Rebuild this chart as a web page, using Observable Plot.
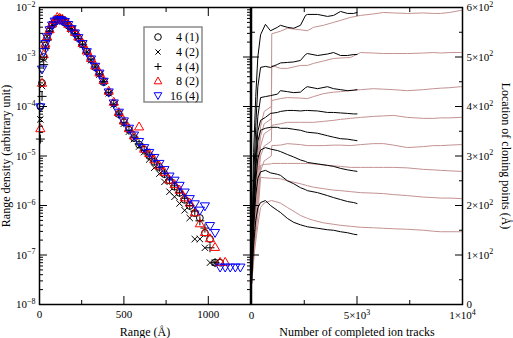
<!DOCTYPE html>
<html>
<head>
<meta charset="utf-8">
<script src="https://cdn.jsdelivr.net/npm/d3@7"></script>
<script src="https://cdn.jsdelivr.net/npm/@observablehq/plot@0.6"></script>
<style>
  html, body { margin: 0; padding: 0; background: white; }
  #wrap { position: relative; width: 513px; height: 338px; overflow: hidden; font-family: "Liberation Serif", "Times New Roman", serif; }
  #wrap > svg, #wrap > figure { position: absolute; top: 0; margin: 0; }
  #wrap svg text { font-family: "Liberation Serif", "Times New Roman", serif; }
</style>
</head>
<body>
<div id="wrap"></div>
<script>
// ---------- LEFT PANEL DATA: range density ----------
const rangeBins = [5,15,25,35,45,60,75,90,105,120,135,150,170,190,210,230,255,280,305,330,355,380,410,440,470,500,530,560,590,620,650,680,710,740,770,800,830,860,890,920,950,980,1010,1040,1070,1100,1130,1160,1190];
const dens4_1 = [1.0e-4,3.0e-4,1.0e-3,1.7e-3,2.4e-3,3.4e-3,4.4e-3,5.1e-3,5.8e-3,5.9e-3,5.6e-3,5.0e-3,4.3e-3,3.7e-3,3.0e-3,2.4e-3,1.8e-3,1.3e-3,9.0e-4,6.2e-4,4.6e-4,3.1e-4,1.9e-4,1.15e-4,7.0e-5,4.8e-5,3.4e-5,2.3e-5,1.7e-5,1.35e-5,1.0e-5,7.6e-6,6.0e-6,4.3e-6,3.2e-6,2.4e-6,1.8e-6,1.3e-6,9.8e-7,7.0e-7,5.6e-7,2.8e-7,2.1e-7,7e-8,7e-8,null,null,null,null];
const dens4_2 = [5.5e-5,2.6e-4,9.0e-4,1.6e-3,2.6e-3,3.6e-3,4.6e-3,5.3e-3,5.9e-3,6.1e-3,5.7e-3,5.2e-3,4.5e-3,3.6e-3,3.1e-3,2.5e-3,1.75e-3,1.25e-3,8.6e-4,6.4e-4,4.4e-4,3.2e-4,1.85e-4,1.1e-4,7.2e-5,4.5e-5,3.1e-5,2.2e-5,1.55e-5,1.2e-5,8.5e-6,5.8e-6,4.4e-6,3.0e-6,1.9e-6,1.5e-6,1.1e-6,8.0e-7,5.6e-7,2.1e-7,2.1e-7,1.4e-7,7e-8,7e-8,null,null,null,null,null];
const dens4_4 = [2.2e-5,1.6e-4,7.0e-4,1.5e-3,2.2e-3,3.3e-3,4.3e-3,5.0e-3,5.6e-3,5.8e-3,5.8e-3,5.1e-3,4.4e-3,3.6e-3,3.0e-3,2.4e-3,1.8e-3,1.25e-3,9.0e-4,6.3e-4,4.5e-4,3.2e-4,1.9e-4,1.1e-4,7.0e-5,4.7e-5,3.3e-5,2.4e-5,1.75e-5,1.3e-5,1.05e-5,7.9e-6,5.9e-6,4.4e-6,3.3e-6,2.5e-6,1.85e-6,1.4e-6,1.0e-6,7.7e-7,4.9e-7,3.5e-7,1.4e-7,7e-8,null,null,null,null,null];
const dens8_2 = [3.5e-5,2.9e-4,1.1e-3,1.8e-3,2.5e-3,3.5e-3,4.6e-3,5.4e-3,6.2e-3,6.0e-3,5.7e-3,5.2e-3,4.5e-3,3.7e-3,3.1e-3,2.5e-3,1.85e-3,1.3e-3,9.2e-4,6.5e-4,4.7e-4,3.3e-4,2.0e-4,1.2e-4,7.4e-5,5.0e-5,3.5e-5,2.5e-5,3.8e-5,1.35e-5,1.1e-5,8.2e-6,6.2e-6,4.6e-6,3.2e-6,2.6e-6,2.0e-6,1.4e-6,1.1e-6,7.0e-7,4.2e-7,2.8e-7,2.1e-7,1.4e-7,7e-8,7e-8,null,null,null];
const dens16_4 = [1.0e-4,5.8e-4,1.3e-3,1.9e-3,2.6e-3,3.6e-3,4.5e-3,5.4e-3,5.7e-3,5.8e-3,5.5e-3,5.3e-3,4.6e-3,3.8e-3,3.1e-3,2.5e-3,1.9e-3,1.3e-3,9.3e-4,6.6e-4,4.8e-4,3.3e-4,2.0e-4,1.2e-4,7.8e-5,5.2e-5,3.7e-5,2.7e-5,2.0e-5,1.5e-5,1.2e-5,9.5e-6,7.2e-6,5.4e-6,4.0e-6,3.3e-6,2.6e-6,1.9e-6,1.4e-6,1.1e-6,8.2e-7,1.0e-6,4.0e-7,2.9e-7,5.8e-8,5.8e-8,5.8e-8,5.8e-8,5.8e-8];

const legendNames = ["4 (1)", "4 (2)", "4 (4)", "8 (2)", "16 (4)"];

const leftXTicks = [0, 500, 1000];
const leftXMinor = [250, 750, 1250];
const leftYTicks = [1e-8, 1e-7, 1e-6, 1e-5, 1e-4, 1e-3, 1e-2];
const leftYLabels = ["10^−8", "10^−7", "10^−6", "10^−5", "10^−4", "10^−3", "10^−2"];
const leftXTitle = ["Range (Å)"];
const leftYTitle = ["Range density (arbitrary unit)"];

// ---------- RIGHT PANEL DATA: cloning point locations ----------
const blackX = [0,100,200,300,430,660,900,1230,1370,1700,2000,2320,2560,2650,3130,3600,3890,4220,4550,4840,5000];
const black1 = [90,307,420,500,545,566,553,560,564,560,558,564,584,586,586,582,584,592,588,588,590];
const black2 = [80,250,360,440,479,481,479,485,488,489,490,493,505,507,503,506,509,503,503,505,505];
const black3 = [70,220,310,380,418,420,422,425,432,430,428,429,438,440,436,440,436,434,432,433,434];
const black4 = [70,200,290,350,372,378,386,388,390,392,392,391,392,392,391,388,388,387,386,385,385];
const black5 = [60,180,270,330,352,356,358,358,356,356,354,352,349,348,346,341,338,335,334,332,331];
const black6 = [60,170,250,295,312,317,314,311,309,303,298,292,289,287,284,281,279,275,272,270,269];
const black7 = [50,150,220,255,268,271,266,263,261,250,244,236,232,230,226,220,216,212,208,206,204];
const black8 = [40,120,170,195,206,210,200,190,186,174,166,161,158,157,154,151,150,147,145,142,141];

const pinkX = [0,150,300,430,600,940,960,1370,1700,2320,2650,2940,3410,3890,4220,4690,5170,5780,6260,6730,7390,8150,8630,8960,9400,9900,10000];
const pink1 = [40,200,300,360,390,400,547,552,558,555,553,560,564,570,574,580,584,587,590,589,588,589,588,588,590,594,594];
const pink2 = [40,180,280,340,365,375,483,477,477,483,483,487,492,497,498,499,509,508,507,507,507,508,509,508,509,509,510];
const pink3 = [40,160,260,320,345,355,412,416,418,417,416,420,426,429,430,432,434,436,435,434,432,434,436,437,438,440,440];
const pink4 = [40,150,240,300,320,330,362,365,368,368,368,368,370,372,374,376,378,380,381,382,378,376,376,377,377,378,378];
const pink5 = [40,140,220,270,290,300,321,322,325,323,321,321,321,322,322,321,323,325,325,322,317,319,321,321,322,323,323];
const pink6 = [40,130,200,281,283,284,285,285,285,285,285,284,282,280,279,277,277,277,277,277,276,273,272,271,270,269,269];
const pink7 = [40,120,180,257,256,255,255,254,250,244,240,237,234,231,230,228,226,225,224,222,220,217,216,215,215,214,214];
const pink8 = [40,110,160,196,205,210,210,205,196,180,174,170,165,162,160,158,156,155,154,153,152,150,148,147,147,147,147];

const rightXTicks = [0, 5000, 10000];
const rightXLabels = ["0", "5×10^3", "1×10^4"];
const rightXMinor = [2500, 7500];
const rightYTicks = [0, 100, 200, 300, 400, 500, 600];
const rightYLabels = ["0", "1×10^2", "2×10^2", "3×10^2", "4×10^2", "5×10^2", "6×10^2"];
const rightYMinor = [50, 150, 250, 350, 450, 550];
const rightXTitle = ["Number of completed ion tracks"];
const rightYTitle = ["Location of cloning points (Å)"];

// ---------- helpers ----------
const ns = "http://www.w3.org/2000/svg";
const FONT = "'Liberation Serif', 'Times New Roman', serif";
function supify(svg) {
  svg.querySelectorAll("text").forEach(t => {
    const s = t.textContent;
    if (s.includes("^")) {
      const [base, exp] = s.split("^");
      t.textContent = "";
      const a = document.createElementNS(ns, "tspan"); a.textContent = base;
      const b = document.createElementNS(ns, "tspan"); b.textContent = exp;
      b.setAttribute("dy", "-0.55em"); b.setAttribute("font-size", "8px");
      t.append(a, b);
    }
  });
}
const pts = (xs, ys) => xs.map((x, i) => ({x, y: ys[i]})).filter(d => d.y != null);
const font = {fontFamily: FONT, fontSize: "11px", background: "transparent", color: "black", overflow: "visible"};
const TITLE = 12;

// minor log ticks
const leftYMinor = [];
for (let e = -8; e < -2; e++) for (let m = 2; m <= 9; m++) leftYMinor.push(m * Math.pow(10, e));

const dotOpts = {x: "x", y: "y", r: 3.4, strokeWidth: 1, fill: "none"};

const left = Plot.plot({
  width: 252, height: 338,
  marginLeft: 39, marginRight: 2, marginTop: 7, marginBottom: 34,
  style: font,
  x: {domain: [0, 1250]},
  y: {type: "log", domain: [1e-8, 1e-2]},
  marks: [
    Plot.dot(pts(rangeBins, dens4_1), {...dotOpts, symbol: "circle", stroke: "black"}),
    Plot.dot(pts(rangeBins, dens4_2), {...dotOpts, symbol: "times", stroke: "black", r: 3}),
    Plot.dot(pts(rangeBins, dens4_4), {...dotOpts, symbol: "plus", stroke: "black", r: 3}),
    Plot.dot(pts(rangeBins, dens8_2), {...dotOpts, symbol: "triangle", stroke: "#ff0000"}),
    Plot.dot(pts(rangeBins, dens16_4), {...dotOpts, symbol: "triangle", rotate: 180, stroke: "#0000ff"}),
    Plot.frame({stroke: "black", strokeWidth: 1.5}),
    Plot.axisY(leftYTicks, {anchor: "left", tickSize: 0, tickPadding: 4, tickFormat: d => leftYLabels[leftYTicks.indexOf(d)], label: null}),
    Plot.axisY(leftYTicks, {anchor: "left", tickSize: -8, text: null, label: null}),
    Plot.axisY(leftYMinor, {anchor: "left", tickSize: -4, text: null, label: null}),
    Plot.axisY(leftYTicks, {anchor: "right", tickSize: -8, text: null, label: null}),
    Plot.axisY(leftYMinor, {anchor: "right", tickSize: -4, text: null, label: null}),
    Plot.axisX(leftXTicks, {anchor: "bottom", tickSize: 0, tickPadding: 6, tickFormat: d => String(d), label: null}),
    Plot.axisX(leftXTicks, {anchor: "bottom", tickSize: -8, text: null, label: null}),
    Plot.axisX(leftXMinor, {anchor: "bottom", tickSize: -4, text: null, label: null}),
    Plot.axisX(leftXTicks, {anchor: "top", tickSize: -8, text: null, label: null}),
    Plot.axisX(leftXMinor, {anchor: "top", tickSize: -4, text: null, label: null}),
    Plot.text(leftXTitle, {text: d => d, frameAnchor: "bottom", textAnchor: "middle", lineAnchor: "bottom", dy: 31, fontSize: TITLE}),
    Plot.text(leftYTitle, {text: d => d, frameAnchor: "left", textAnchor: "middle", lineAnchor: "middle", rotate: -90, dx: -33, fontSize: TITLE})
  ]
});

const pinkCol = "#c49292";
const lineOpts = {x: "x", y: "y", strokeWidth: 1};
const right = Plot.plot({
  width: 265, height: 338,
  marginLeft: 3, marginRight: 51, marginTop: 7, marginBottom: 34,
  style: font,
  x: {domain: [0, 10000]},
  y: {domain: [0, 600]},
  marks: [
    ...[pink1, pink2, pink3, pink4, pink5, pink6, pink7, pink8].map(p =>
      Plot.line(pts(pinkX, p), {...lineOpts, stroke: pinkCol})),
    ...[black1, black2, black3, black4, black5, black6, black7, black8].map(b =>
      Plot.line(pts(blackX, b), {...lineOpts, stroke: "black"})),
    Plot.frame({stroke: "black", strokeWidth: 1.5}),
    Plot.axisY(rightYTicks, {anchor: "right", tickSize: 0, tickPadding: 4, tickFormat: d => rightYLabels[rightYTicks.indexOf(d)], label: null}),
    Plot.axisY(rightYTicks, {anchor: "right", tickSize: -8, text: null, label: null}),
    Plot.axisY(rightYMinor, {anchor: "right", tickSize: -4, text: null, label: null}),
    Plot.axisY(rightYTicks, {anchor: "left", tickSize: -8, text: null, label: null}),
    Plot.axisY(rightYMinor, {anchor: "left", tickSize: -4, text: null, label: null}),
    Plot.axisX(rightXTicks, {anchor: "bottom", tickSize: 0, tickPadding: 7, tickFormat: d => rightXLabels[rightXTicks.indexOf(d)], label: null}),
    Plot.axisX(rightXTicks, {anchor: "bottom", tickSize: -8, text: null, label: null}),
    Plot.axisX(rightXMinor, {anchor: "bottom", tickSize: -4, text: null, label: null}),
    Plot.axisX(rightXTicks, {anchor: "top", tickSize: -8, text: null, label: null}),
    Plot.axisX(rightXMinor, {anchor: "top", tickSize: -4, text: null, label: null}),
    Plot.text(rightXTitle, {text: d => d, frameAnchor: "bottom", textAnchor: "middle", lineAnchor: "bottom", dy: 31, fontSize: TITLE}),
    Plot.text(rightYTitle, {text: d => d, frameAnchor: "right", textAnchor: "middle", lineAnchor: "middle", rotate: 90, dx: 43, fontSize: TITLE})
  ]
});

supify(left); supify(right);
const wrap = document.getElementById("wrap");
left.style.left = "0px";
right.style.left = "248px";
wrap.append(right, left);

// ---------- legend ----------
const lg = document.createElementNS(ns, "svg");
lg.setAttribute("width", 62); lg.setAttribute("height", 78);
lg.style.position = "absolute"; lg.style.left = "143px"; lg.style.top = "26px";
const rowY = [11, 26, 40.5, 55, 69.5];
let html = `<rect x="1" y="1" width="58" height="75" fill="white" stroke="#8a8a8a" stroke-width="1.5"/>`;
const sx = 15;
html += `<circle cx="${sx}" cy="${rowY[0]}" r="3.3" fill="none" stroke="black"/>`;
html += `<path d="M${sx-2.6},${rowY[1]-2.6}L${sx+2.6},${rowY[1]+2.6}M${sx-2.6},${rowY[1]+2.6}L${sx+2.6},${rowY[1]-2.6}" stroke="black"/>`;
html += `<path d="M${sx-3.5},${rowY[2]}L${sx+3.5},${rowY[2]}M${sx},${rowY[2]-3.5}L${sx},${rowY[2]+3.5}" stroke="black"/>`;
html += `<path d="M${sx},${rowY[3]-4}L${sx+3.8},${rowY[3]+2.8}L${sx-3.8},${rowY[3]+2.8}Z" fill="none" stroke="#ff0000"/>`;
html += `<path d="M${sx},${rowY[4]+4}L${sx+3.8},${rowY[4]-2.8}L${sx-3.8},${rowY[4]-2.8}Z" fill="none" stroke="#0000ff"/>`;
legendNames.forEach((n, i) => {
  html += `<text x="56" y="${rowY[i]}" dy="0.35em" text-anchor="end" font-size="12">${n}</text>`;
});
lg.innerHTML = html;
wrap.append(lg);
</script>
</body>
</html>
